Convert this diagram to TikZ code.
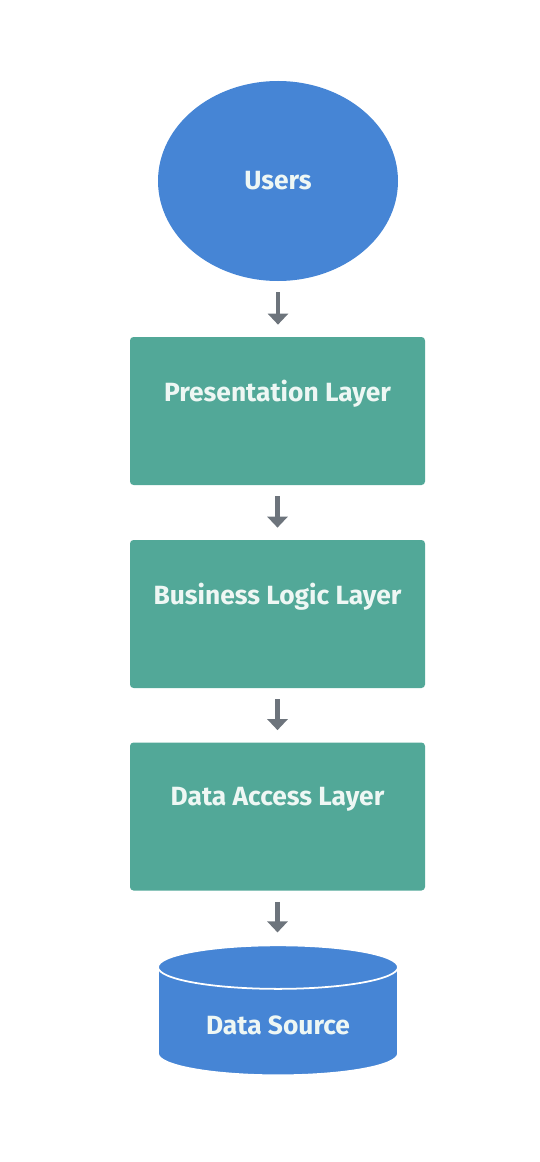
\documentclass[tikz,border=0pt]{standalone}
\usepackage{fontspec}
\setmainfont{Fira Sans}
\usetikzlibrary{positioning,arrows.meta,shapes.geometric}
\definecolor{userblue}{HTML}{4685D5}
\definecolor{layerteal}{HTML}{52A898}
\definecolor{flowgray}{HTML}{6D747C}
\definecolor{labelwhite}{HTML}{EEF7F4}

\begin{document}
\begin{tikzpicture}[
  font=\fontsize{15}{17}\selectfont\bfseries,
  actor/.style={ellipse, fill=userblue, text=labelwhite, minimum width=4.8cm, minimum height=4.0cm},
  layer/.style={rectangle, rounded corners=2pt, fill=layerteal, text=labelwhite,
                minimum width=5.9cm, minimum height=2.96cm, text depth=0.8cm},
  store/.style={cylinder, shape border rotate=90, aspect=0.28, draw=white, line width=1pt,
                cylinder uses custom fill, cylinder body fill=userblue, cylinder end fill=userblue,
                text=labelwhite, minimum width=4.8cm, minimum height=2.6cm},
  flow/.style={-{Triangle[width=0.4cm,length=0.22cm]}, line width=2.3pt, draw=flowgray,
               shorten <=0.22cm, shorten >=0.24cm},
]
% ---- canvas ----
\useasboundingbox (0,0) rectangle (10.8,-23.24);

% ---- tiers, top to bottom ----
\node[actor] (users) at (5.56,-3.62)  {Users};
\node[layer] (pres)  at (5.55,-8.22)  {Presentation Layer};
\node[layer] (biz)   at (5.55,-12.28) {Business Logic Layer};
\node[layer] (dal)   at (5.55,-16.33) {Data Access Layer};
\node[store] (src)   at (5.56,-20.5)  {Data Source};

% ---- request flow ----
\foreach \a/\b in {users/pres, pres/biz, biz/dal, dal/src}{
  \draw[flow] (\a.south) -- (\a.south |- \b.north);
}
\end{tikzpicture}
\end{document}
